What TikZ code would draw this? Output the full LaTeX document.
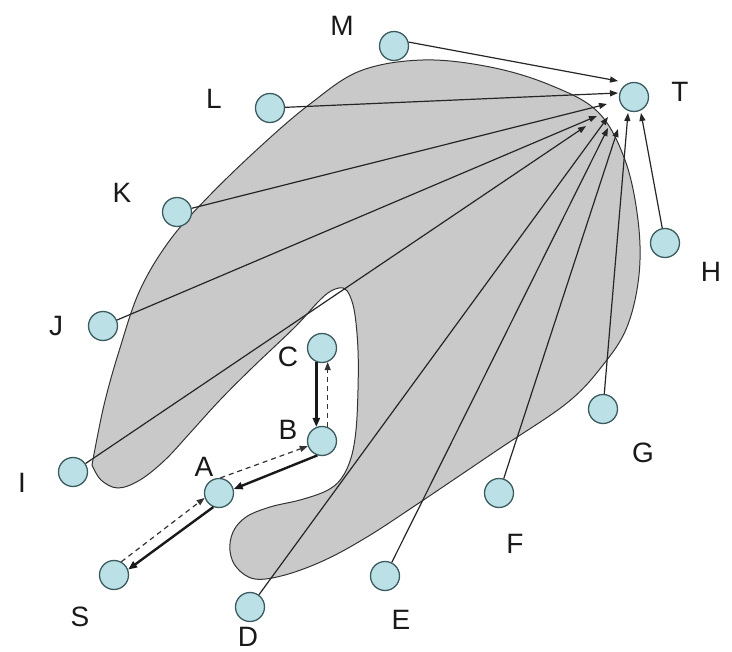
\documentclass[tikz,border=0pt]{standalone}
\usepackage{fontspec}
\setmainfont{Liberation Sans}
\usetikzlibrary{arrows.meta}
\definecolor{blobfill}{HTML}{C9C9C9}
\definecolor{nodefill}{HTML}{BBE1E6}
\definecolor{nodeline}{HTML}{3B5B5E}
\begin{document}
\begin{tikzpicture}[x=1pt,y=-1pt,
  vert/.style={circle, draw=nodeline, fill=nodefill, line width=1.3pt, minimum size=29pt, inner sep=0pt},
  lbl/.style={font=\fontsize{28}{30}\selectfont, inner sep=0pt, text=black!90},
  tarrow/.style={draw=black!85, line width=1.2pt, -{Triangle[length=8pt,width=6pt]}},
  boldarrow/.style={draw=black!90, line width=2.4pt, -{Triangle[length=9pt,width=7pt]}},
  dasharrow/.style={draw=black!80, line width=1.2pt, dash pattern=on 5pt off 4pt, -{Triangle[length=8pt,width=6pt]}}
]
\useasboundingbox (0,0) rectangle (732,652);

% gray region
\filldraw[fill=blobfill, draw=black!80, line width=1pt] plot[smooth, tension=0.6] coordinates {
(92,465) (104,405) (120,348) (140,290) (170,240) (210,195) (262,145) (310,104) (360,71) (423,60) (490,67) (550,85) (598,112) (625,160) (638,220) (639,275) (627,327) (603,365) (567,403) (499,449) (416,505) (367,537) (325,560) (285,575) (255,579) (237,568) (230,551) (233,532) (246,517) (270,507) (300,500) (326,491) (341,479) (351,458) (356,430) (358,390) (358,350) (355,315) (350,296) (343,288) (331,291) (318,302) (295,327) (253,367) (220,400) (190,433) (165,460) (140,480) (118,488) (101,480) (92,465)} -- cycle;

% vertices
\node[vert] (M) at (394,46) {};
\node[vert] (T) at (634,97) {};
\node[vert] (L) at (270,108) {};
\node[vert] (K) at (177,212) {};
\node[vert] (H) at (665,243) {};
\node[vert] (J) at (103,326) {};
\node[vert] (C) at (322,348) {};
\node[vert] (B) at (322,441) {};
\node[vert] (G) at (603,409) {};
\node[vert] (I) at (73,472) {};
\node[vert] (A) at (219,493) {};
\node[vert] (F) at (499,493) {};
\node[vert] (S) at (114,575) {};
\node[vert] (E) at (385,576) {};
\node[vert] (D) at (250,607) {};

% labels
\node[lbl] (lM) at (342,26) {M};
\node[lbl] (lT) at (680,92) {T};
\node[lbl] (lL) at (214,99) {L};
\node[lbl] (lK) at (122,193) {K};
\node[lbl] (lH) at (711,272) {H};
\node[lbl] (lJ) at (56,326) {J};
\node[lbl] (lC) at (288,357) {C};
\node[lbl] (lB) at (288,430) {B};
\node[lbl] (lG) at (643,453) {G};
\node[lbl] (lI) at (22,483) {I};
\node[lbl] (lA) at (204,467) {A};
\node[lbl] (lF) at (515,544) {F};
\node[lbl] (lS) at (80,617) {S};
\node[lbl] (lE) at (401,620) {E};
\node[lbl] (lD) at (248,637) {D};

% arrow end points near T
\coordinate (tM) at (618,81);
\coordinate (tL) at (618,93);
\coordinate (tK) at (607,104);
\coordinate (tJ) at (597,116);
\coordinate (tI) at (586,126);
\coordinate (tD) at (608,117);
\coordinate (tE) at (608,128);
\coordinate (tF) at (618,129);
\coordinate (tG) at (628,113);
\coordinate (tH) at (641,113);

\draw[tarrow] (M.15) -- (tM);
\draw[tarrow] (L) -- (tL);
\draw[tarrow] (K) -- (tK);
\draw[tarrow] (J) -- (tJ);
\draw[tarrow] (I) -- (tI);
\draw[tarrow] (D) -- (tD);
\draw[tarrow] (E) -- (tE);
\draw[tarrow] (F) -- (tF);
\draw[tarrow] (G) -- (tG);
\draw[tarrow] (H) -- (tH);

% paths among S, A, B, C
\draw[boldarrow] (C.248) -- (B.112);
\draw[dasharrow] (B.68) -- (C.292);
\draw[dasharrow] (A.85) -- (B.200);
\draw[boldarrow] (B.252) -- (A.15);
\draw[dasharrow] (S.61) -- (A.199);
\draw[boldarrow] (A.248) -- (S.21);
\end{tikzpicture}
\end{document}
